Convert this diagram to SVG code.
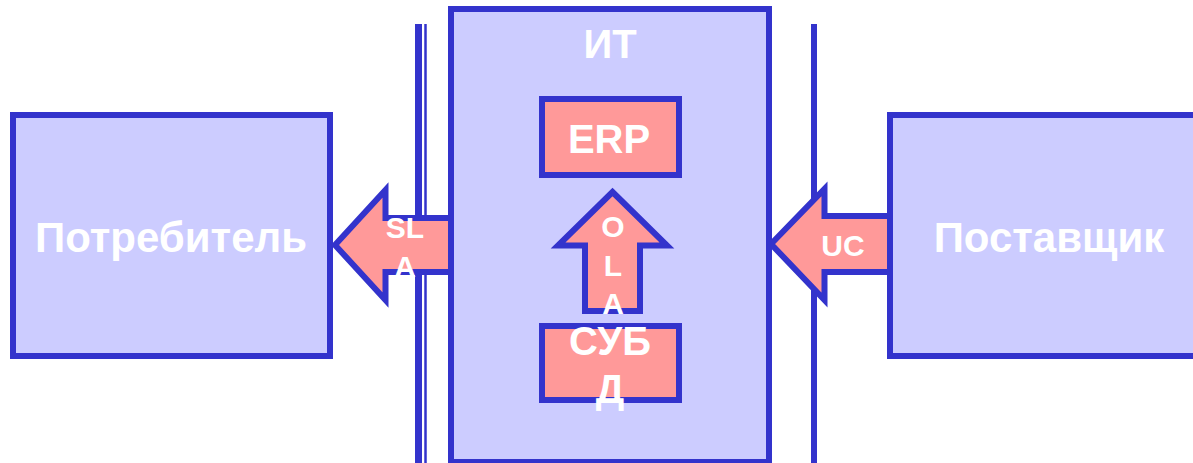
<svg xmlns="http://www.w3.org/2000/svg" width="1193" height="463" viewBox="0 0 1193 463">
<style>
.box{fill:#CCCCFF;stroke:#3333CC;stroke-width:6}
.pk{fill:#FF9999;stroke:#3333CC;stroke-width:6}
.arr{fill:#FF9999;stroke:#3333CC;stroke-width:6;stroke-linejoin:miter}
.t{font-family:"Liberation Sans",Arial,sans-serif;font-weight:bold;fill:#FFFFFF;text-anchor:middle}
.big{font-size:40px}
.nm{font-size:42px}
.sm{font-size:30px}
.ln{stroke:#3333CC}
</style>
<rect width="1193" height="463" fill="#FFFFFF"/>
<g id="boundaries">
<line class="ln" x1="418.5" y1="24" x2="418.5" y2="463" stroke-width="7"/>
<line class="ln" x1="425.5" y1="24" x2="425.5" y2="463" stroke-width="2.5"/>
<line class="ln" x1="814" y1="24" x2="814" y2="463" stroke-width="6"/>
</g>
<g id="consumer">
<rect class="box" x="13" y="115" width="317" height="241"/>
<text class="t nm" x="171" y="252">Потребитель</text>
</g>
<g id="supplier">
<rect class="box" x="890" y="115" width="320" height="241"/>
<text class="t nm" x="1049" y="252">Поставщик</text>
</g>
<g id="it">
<rect class="box" x="451" y="9" width="318" height="453"/>
<text class="t big" x="610" y="58">ИТ</text>
</g>
<g id="erp">
<rect class="pk" x="542" y="99" width="137" height="76"/>
<text class="t big" x="609" y="153">ERP</text>
</g>
<g id="connectors">
<path class="arr" d="M335,245 L385.5,190 L385.5,218 L451,218 L451,272 L385.5,272 L385.5,300 Z"/>
<path class="arr" d="M771,244 L824.5,189 L824.5,216 L890,216 L890,272 L824.5,272 L824.5,300 Z"/>
<path class="arr" d="M612.5,192 L667,245.5 L640,245.5 L640,311 L585,311 L585,245.5 L558,245.5 Z"/>
</g>
<g id="subd">
<rect class="pk" x="542" y="326" width="137" height="74"/>
</g>
<g id="labels">
<text class="t sm" x="405" y="238">SL</text>
<text class="t sm" x="405" y="277">A</text>
<text class="t sm" x="843" y="256">UC</text>
<text class="t sm" x="613" y="237">O</text>
<text class="t sm" x="613" y="276">L</text>
<text class="t sm" x="613" y="314">A</text>
<text class="t big" x="610" y="355">СУБ</text>
<text class="t big" x="610" y="403">Д</text>
</g>
</svg>
